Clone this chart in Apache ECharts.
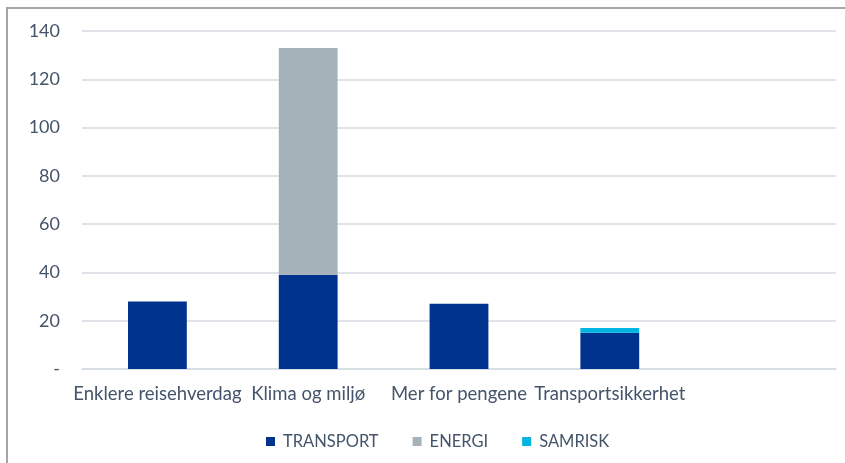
<!DOCTYPE html>
<html>
<head>
<meta charset="utf-8">
<script src="https://cdn.jsdelivr.net/npm/echarts@6/dist/echarts.min.js"></script>
<style>
  html, body { margin: 0; padding: 0; background: #fff; }
  #wrap { position: relative; width: 845px; height: 463px; }
  #chart { position: absolute; left: 0; top: 0; width: 845px; height: 463px; }
  #frame { position: absolute; left: 6px; top: 7px; right: 0; bottom: 0;
           border-top: 2px solid #a6a6a6; border-left: 2px solid #a6a6a6; pointer-events: none; }
</style>
</head>
<body>
<div id="wrap">
  <div id="chart"></div>
  <div id="frame"></div>
</div>
<script>
// kategorier og verdier lest av figuren
const categories = ['Enklere reisehverdag', 'Klima og miljø', 'Mer for pengene', 'Transportsikkerhet', ''];
const transport = [28, 39, 27, 15, null];
const energi = [null, 94, null, null, null];
const samrisk = [null, null, null, 2, null];

const textColor = '#44546a';
const font = 'Lato';

const chart = echarts.init(document.getElementById('chart'));

const option = {
  animation: false,
  textStyle: { fontFamily: font },
  grid: { left: 82, right: 9, top: 31, bottom: 94 },
  legend: {
    left: 261,
    top: 428,
    itemWidth: 9,
    itemHeight: 9,
    itemGap: 34,
    icon: 'rect',
    textStyle: { color: textColor, fontSize: 16.5, fontFamily: font, padding: [0, 0, 0, 3] },
    data: ['TRANSPORT', 'ENERGI', 'SAMRISK']
  },
  xAxis: {
    type: 'category',
    data: categories,
    axisLine: { lineStyle: { color: '#d6dbe2', width: 1.5 } },
    axisTick: { show: false },
    axisLabel: { color: textColor, fontSize: 18.5, fontFamily: font, interval: 0, margin: 16 }
  },
  yAxis: {
    type: 'value',
    min: 0,
    max: 140,
    interval: 20,
    axisLine: { show: false },
    axisTick: { show: false },
    splitLine: { lineStyle: { color: '#d6dbe2', width: 1.5 } },
    axisLabel: {
      color: textColor,
      fontSize: 18,
      fontFamily: font,
      margin: 22,
      formatter: v => (v === 0 ? '-' : v)
    }
  },
  series: [
    {
      name: 'TRANSPORT',
      type: 'bar',
      stack: 'total',
      barWidth: '39%',
      data: transport,
      itemStyle: { color: '#00338d' }
    },
    {
      name: 'ENERGI',
      type: 'bar',
      stack: 'total',
      data: energi,
      itemStyle: { color: '#a5b2ba' }
    },
    {
      name: 'SAMRISK',
      type: 'bar',
      stack: 'total',
      data: samrisk,
      itemStyle: { color: '#00b5e2' }
    }
  ]
};

chart.setOption(option);
</script>
</body>
</html>
